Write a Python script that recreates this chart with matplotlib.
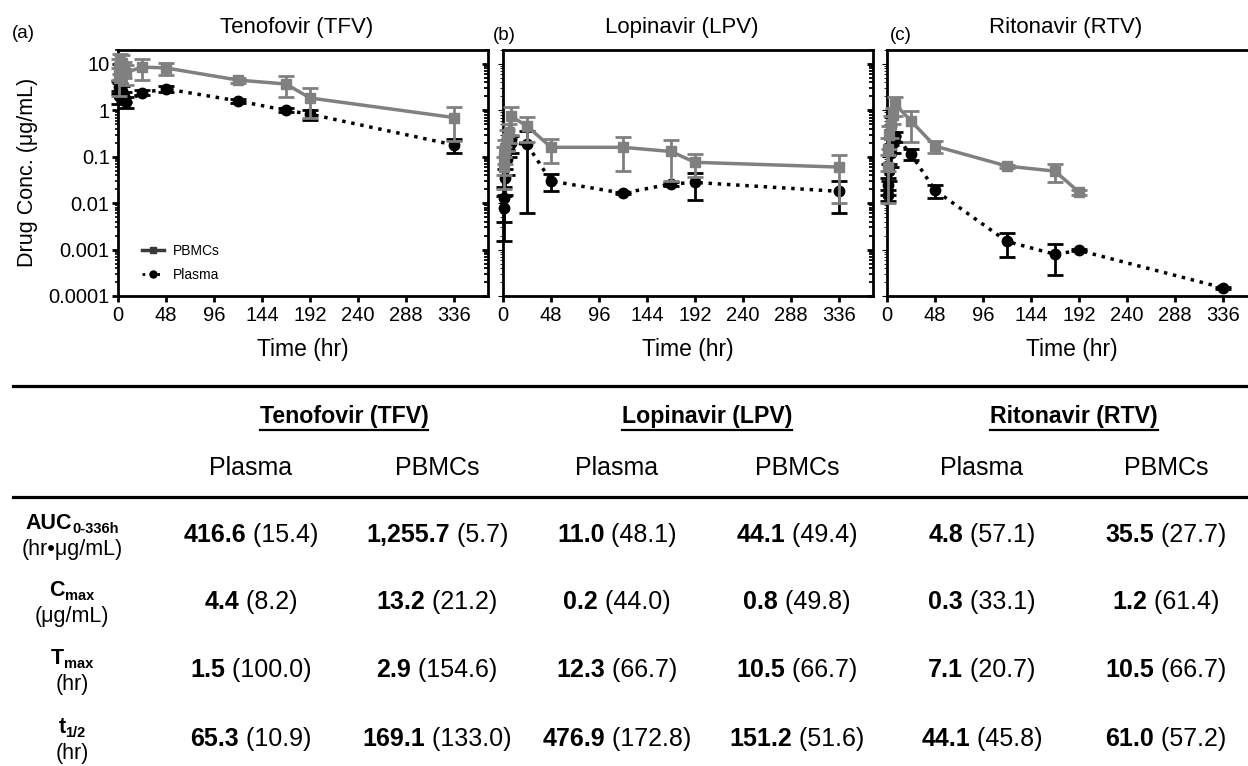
import numpy as np
import matplotlib
matplotlib.use('Agg')
import matplotlib.pyplot as plt
from matplotlib.lines import Line2D
from matplotlib.ticker import LogLocator, NullFormatter

plt.rcParams['font.family'] = ['Liberation Sans', 'DejaVu Sans']

W, H = 1248, 766

# ---- data ----
times = [0.5, 1, 2, 4, 6, 8, 24, 48, 120, 168, 192, 336]

tfv_plasma = [2.0, 3.2, 3.0, 2.6, 2.0, 1.5, 2.4, 2.9, 1.6, 1.0, 0.83, 0.18]
tfv_plasma_sd = [0.6, 1.0, 0.8, 0.7, 0.5, 0.4, 0.3, 0.4, 0.15, 0.1, 0.2, 0.06]
tfv_pbmc = [5.0, 8.5, 11.0, 10.5, 8.0, 6.5, 8.6, 8.2, 4.5, 3.7, 1.85, 0.7]
tfv_pbmc_sd = [3.0, 4.0, 5.0, 5.0, 3.0, 3.0, 4.0, 2.5, 0.6, 1.8, 1.15, 0.48]

lpv_plasma = [0.008, 0.013, 0.035, 0.09, 0.17, 0.2, 0.186, 0.03, 0.0164, 0.026, 0.028, 0.018]
lpv_plasma_sd = [0.0065, 0.009, 0.02, 0.05, 0.07, 0.08, 0.18, 0.012, 0.001, 0.002, 0.016, 0.012]
lpv_pbmc = [0.06, 0.1, 0.15, 0.25, 0.35, 0.75, 0.46, 0.16, 0.16, 0.13, 0.076, 0.06]
lpv_pbmc_sd = [0.04, 0.06, 0.08, 0.12, 0.15, 0.45, 0.25, 0.085, 0.11, 0.1, 0.04, 0.05]

rtv_plasma = [0.015, 0.025, 0.05, 0.12, 0.2, 0.28, 0.114, 0.019, 0.0015, 0.00079, 0.00096, 0.00015]
rtv_plasma_sd = [0.004, 0.01, 0.02, 0.06, 0.08, 0.07, 0.03, 0.006, 0.0008, 0.0005, 0.00005, 0.00001]
rtv_pbmc_times = times[:-1]
rtv_pbmc = [0.06, 0.15, 0.3, 0.5, 0.8, 1.37, 0.59, 0.17, 0.063, 0.049, 0.0173]
rtv_pbmc_sd = [0.05, 0.1, 0.15, 0.25, 0.3, 0.6, 0.38, 0.05, 0.005, 0.02, 0.002]

drugs = ['Tenofovir (TFV)', 'Lopinavir (LPV)', 'Ritonavir (RTV)']
panel_tags = ['(a)', '(b)', '(c)']
matrices = ['Plasma', 'PBMCs']

# table: bold value, (CV%) per row, columns TFV plasma, TFV PBMC, LPV plasma, ...
auc_vals = ['416.6', '1,255.7', '11.0', '44.1', '4.8', '35.5']
auc_cv = ['15.4', '5.7', '48.1', '49.4', '57.1', '27.7']
cmax_vals = ['4.4', '13.2', '0.2', '0.8', '0.3', '1.2']
cmax_cv = ['8.2', '21.2', '44.0', '49.8', '33.1', '61.4']
tmax_vals = ['1.5', '2.9', '12.3', '10.5', '7.1', '10.5']
tmax_cv = ['100.0', '154.6', '66.7', '66.7', '20.7', '66.7']
thalf_vals = ['65.3', '169.1', '476.9', '151.2', '44.1', '61.0']
thalf_cv = ['10.9', '133.0', '172.8', '51.6', '45.8', '57.2']

series = [
    (times, tfv_plasma, tfv_plasma_sd, times, tfv_pbmc, tfv_pbmc_sd),
    (times, lpv_plasma, lpv_plasma_sd, times, lpv_pbmc, lpv_pbmc_sd),
    (times, rtv_plasma, rtv_plasma_sd, rtv_pbmc_times, rtv_pbmc, rtv_pbmc_sd),
]

GRAY = '#808080'

fig = plt.figure(figsize=(W / 100, H / 100), dpi=100)


def fx(px):
    return px / W


def fy(py):
    return 1 - py / H


panel_left = [118, 503, 887]
ax_top, ax_bot, ax_w = 50, 296, 370

yt = [1e-4, 1e-3, 1e-2, 1e-1, 1, 10]
ytl = ['0.0001', '0.001', '0.01', '0.1', '1', '10']

axes = []
for i, left in enumerate(panel_left):
    ax = fig.add_axes([fx(left), fy(ax_bot), ax_w / W, (ax_bot - ax_top) / H])
    axes.append(ax)
    tp, mp, sp, tb, mb, sb = series[i]
    ax.errorbar(tp, mp, yerr=sp, color='black', marker='o', ms=7.5, lw=2.5, ls=':',
                capsize=5.5, capthick=2, elinewidth=2, clip_on=False, zorder=3)
    ax.errorbar(tb, mb, yerr=sb, color=GRAY, marker='s', ms=7.5, lw=2.5, ls='-',
                capsize=5.5, capthick=2, elinewidth=2, clip_on=False, zorder=4)
    ax.set_yscale('log')
    ax.set_ylim(1e-4, 20)
    ax.set_xlim(0, 370)
    ax.set_xticks(range(0, 337, 48))
    ax.set_yticks(yt, labels=ytl)
    ax.yaxis.set_minor_locator(LogLocator(base=10, subs=np.arange(2, 10), numticks=20))
    ax.yaxis.set_minor_formatter(NullFormatter())
    for s in ax.spines.values():
        s.set_linewidth(2)
    ax.tick_params(axis='x', direction='out', length=4, width=2, labelsize=14.5, pad=3)
    if i == 0:
        ax.tick_params(axis='y', which='major', direction='out', length=4, width=2,
                       labelsize=14.5, pad=2)
        ax.tick_params(axis='y', which='minor', direction='out', length=2.5, width=1.2)
    else:
        ax.tick_params(axis='y', which='both', left=False, labelleft=False)
    # inward ticks on the right spine
    ax2 = ax.twinx()
    ax2.set_yscale('log')
    ax2.set_ylim(1e-4, 20)
    ax2.set_yticks(yt)
    ax2.yaxis.set_minor_locator(LogLocator(base=10, subs=np.arange(2, 10), numticks=20))
    ax2.tick_params(axis='y', which='major', direction='in', length=4.5, width=2, labelright=False)
    ax2.tick_params(axis='y', which='minor', direction='in', length=3, width=1.3, labelright=False)
    ax2.yaxis.set_minor_formatter(NullFormatter())
    for s in ax2.spines.values():
        s.set_visible(False)

    cx = left + ax_w / 2
    fig.text(fx(cx - 6), fy(27), drugs[i], fontsize=16, ha='center', va='center')
    fig.text(fx(cx), fy(350), 'Time (hr)', fontsize=16.5, ha='center', va='center')

fig.text(fx(12), fy(33), '(a)', fontsize=13.5, ha='left', va='center')
fig.text(fx(493), fy(35), '(b)', fontsize=13.5, ha='left', va='center')
fig.text(fx(890), fy(35), '(c)', fontsize=13.5, ha='left', va='center')
fig.text(fx(28), fy(172), 'Drug Conc. (μg/mL)', fontsize=15.5, rotation=90,
         ha='center', va='center')

h_pbmc = Line2D([], [], color='#3a3a3a', marker='s', ms=5, lw=2.5)
h_plasma = Line2D([], [], color='black', marker='o', ms=5, lw=2, ls=':')
axes[0].legend([h_pbmc, h_plasma], ['PBMCs', 'Plasma'], loc='lower left',
               bbox_to_anchor=((142 - 118) / ax_w, (296 - 282) / 246), frameon=False,
               fontsize=10, handlelength=1.6, handletextpad=0.6, labelspacing=0.75,
               borderpad=0, borderaxespad=0)

# ---- table ----
renderer = fig.canvas.get_renderer()


def rich_text(cx, base_y, runs):
    arts = []
    total = 0
    for s, size, weight, dy in runs:
        t = fig.text(0, 0, s, fontsize=size, fontweight=weight, ha='left', va='baseline')
        w = t.get_window_extent(renderer).width
        arts.append((t, w, dy))
        total += w
    x = cx - total / 2
    for t, w, dy in arts:
        t.set_position((fx(x), fy(base_y + dy)))
        x += w


fig.add_artist(Line2D([fx(13), 1], [fy(386), fy(386)], lw=2.3, color='black'))
fig.add_artist(Line2D([fx(13), 1], [fy(497), fy(497)], lw=2.3, color='black'))

col_x = [251, 437, 617, 797, 982, 1166]
for d in range(3):
    cx = (col_x[2 * d] + col_x[2 * d + 1]) / 2
    t = fig.text(fx(cx), fy(417), drugs[d], fontsize=16.7, fontweight='bold',
                 ha='center', va='center')
    w = t.get_window_extent(renderer).width
    fig.add_artist(Line2D([fx(cx - w / 2), fx(cx + w / 2)], [fy(430), fy(430)],
                          lw=1.6, color='black'))
    for k in range(2):
        fig.text(fx(col_x[2 * d + k]), fy(468), matrices[k], fontsize=18,
                 ha='center', va='center')

row_y = [533, 600, 668, 737]
row_vals = [(auc_vals, auc_cv), (cmax_vals, cmax_cv), (tmax_vals, tmax_cv), (thalf_vals, thalf_cv)]
row_heads = [
    ([('AUC', 15.5, 'bold', 0), ('0-336h', 10.5, 'bold', 4)], '(hr•μg/mL)'),
    ([('C', 15.5, 'bold', 0), ('max', 10.5, 'bold', 4)], '(μg/mL)'),
    ([('T', 15.5, 'bold', 0), ('max', 10.5, 'bold', 4)], '(hr)'),
    ([('t', 15.5, 'bold', 0), ('1/2', 10.5, 'bold', 4)], '(hr)'),
]
label_x = 72
for r, ry in enumerate(row_y):
    runs, unit = row_heads[r]
    rich_text(label_x, ry - 12 + 8, runs)
    rich_text(label_x, ry + 14 + 8, [(unit, 15.5, 'normal', 0)])
    vals, cvs = row_vals[r]
    for c in range(6):
        rich_text(col_x[c], ry + 9, [(vals[c], 18, 'bold', 0), (' (' + cvs[c] + ')', 18, 'normal', 0)])

fig.savefig('out.png', dpi=100)
